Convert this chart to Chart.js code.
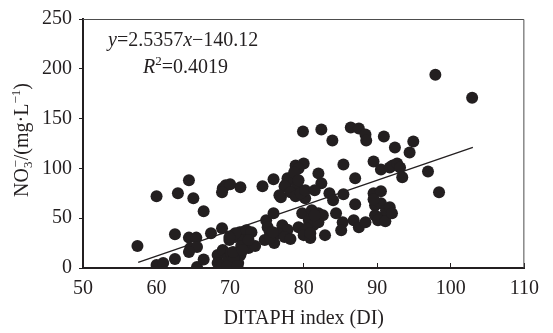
<!DOCTYPE html>
<html>
<head>
<meta charset="utf-8">
<script src="https://cdn.jsdelivr.net/npm/chart.js@4.4.0/dist/chart.umd.min.js"></script>
<style>
html, body { margin: 0; padding: 0; background: #fff; }
</style>
</head>
<body>
<canvas id="diChart" width="553" height="333"></canvas>
<script>
// DITAPH index (x) and nitrate (y)
var diIndex = [
    57.4, 60, 62.9, 64.4, 65, 66.4, 62.5, 64.4, 65.4, 64.6, 65.5, 64.4, 67.4, 60, 60.9, 62.5, 65.5, 66.4,
    68.9, 68.3, 69, 68.3, 68.9, 69.7, 70.1, 69.9, 70.7, 71.3, 72.2, 72.9, 71.8, 72.5, 71.5, 71.4, 71.1, 70.5,
    73.4, 69.6, 71, 69, 69.4, 70, 68.9, 71.4, 72.5, 70.4, 71.7, 70.7, 69.9,
    74.4, 75.9, 74.9, 75.1, 75.9, 75.6, 76, 77.1, 77.8, 76.9, 77.6, 77.8, 78.7, 77.4, 79.1, 78.2, 78.9, 80.2,
    78.9, 80, 79.3, 78.7, 79.3, 79.6, 80.2, 79.9, 75.4, 76.5, 77.4, 78.2, 79.3, 79.8, 74.7, 75.4, 76.7, 80, 75.8,
    82.4, 83.9, 82, 82.4, 81.5, 83.5, 84, 85.4, 85.4, 81.1, 82, 82.6, 80.7, 81.3, 80.4, 80, 80.9, 82.9, 84.4,
    85.3, 85.1, 82, 80.9, 81.5,
    86.4, 87.5, 88.4, 88.5, 90.9, 89.5, 90.5, 91.7, 87, 87, 89.5, 90.5, 89.7, 90.5, 86.8, 87.5, 88.4, 89.7,
    90.6, 91.2, 91.7, 90.1, 91.1, 92, 89.5,
    92.4, 94.9, 94.4, 92.1, 92.7, 93.1, 93.4, 96.9, 98.4, 97.9, 102.9
];
var no3 = [
    22, 72, 75, 88, 70, 57, 34, 30.5, 30.5, 20, 21, 16, 35, 3, 5, 9, 1, 8.5,
    40, 13, 18, 5, 3, 10, 15, 28, 31, 36, 38, 36, 28, 20, 22, 13, 5, 9,
    22, 1.5, 2, 80, 83, 84, 76, 81, 28, 16, 18, 35, 31,
    82, 89, 48, 41, 55, 31, 25, 43, 38.5, 71, 84, 90, 88, 82, 82, 76, 72, 70,
    103, 105, 100, 96, 88, 75, 78, 137, 36, 35, 31, 29, 41, 55, 28, 30, 73, 36, 36,
    139, 128, 95, 85, 78, 75, 68, 74, 104, 58, 55, 53, 48, 43, 40, 33, 30, 33, 55,
    46, 38, 46, 35, 53,
    141, 140, 134, 128, 132, 107, 99, 101, 90, 64, 75, 77, 63, 65, 48, 41, 46, 53,
    51, 58, 61, 48, 47, 55, 69,
    121, 127, 116, 103, 105, 101, 91, 97, 76, 194, 171
];

// ends of the fitted line as drawn
var fitX = [57.5, 103];
var fitY = [5.7, 121.1];

var xTicks = [50, 60, 70, 80, 90, 100, 110];
var yTicks = [0, 50, 100, 150, 200, 250];

var ink = '#231f20';
var serif = 'Liberation Serif';

var points = diIndex.map(function (x, i) { return { x: x, y: no3[i] }; });
var fitLine = fitX.map(function (x, i) { return { x: x, y: fitY[i] }; });

// thin frame on top and right, as in the figure
var framePlugin = {
    id: 'frame',
    afterDraw: function (chart) {
        var a = chart.chartArea, c = chart.ctx;
        c.save();
        c.strokeStyle = '#4d4d4d';
        c.lineWidth = 1;
        c.beginPath();
        c.moveTo(a.left, a.top + 0.5);
        c.lineTo(a.right - 0.5, a.top + 0.5);
        c.lineTo(a.right - 0.5, a.bottom);
        c.stroke();
        c.restore();
    }
};

// draws text pieces with italics / sub / superscripts
function drawRuns(c, runs, x, y) {
    runs.forEach(function (r) {
        var size = r.size || 20;
        c.font = (r.italic ? 'italic ' : '') + size + 'px "' + serif + '"';
        c.fillText(r.t, x, y + (r.dy || 0));
        x += c.measureText(r.t).width + (r.kern || 0);
    });
}
function runsWidth(c, runs) {
    var w = 0;
    runs.forEach(function (r) {
        c.font = (r.italic ? 'italic ' : '') + (r.size || 20) + 'px "' + serif + '"';
        w += c.measureText(r.t).width + (r.kern || 0);
    });
    return w;
}

var labelsPlugin = {
    id: 'labels',
    afterDraw: function (chart) {
        var c = chart.ctx;
        c.save();
        c.fillStyle = ink;
        c.textBaseline = 'alphabetic';

        // regression text
        drawRuns(c, [
            { t: 'y', italic: true },
            { t: '=2.5357' },
            { t: 'x', italic: true },
            { t: '\u2212140.12' }
        ], 108, 46);
        drawRuns(c, [
            { t: 'R', italic: true },
            { t: '2', size: 13, dy: -8 },
            { t: '=0.4019' }
        ], 143, 73);

        // y axis title, rotated
        var yRuns = [
            { t: 'NO' },
            { t: '3', size: 13, dy: 4, kern: -6 },
            { t: '\u2212', size: 13, dy: -8 },
            { t: '/(mg\u00b7L' },
            { t: '\u22121', size: 13, dy: -8 },
            { t: ')' }
        ];
        var w = runsWidth(c, yRuns);
        c.translate(28, 140);
        c.rotate(-Math.PI / 2);
        drawRuns(c, yRuns, -w / 2, 0);
        c.restore();
    }
};

new Chart(document.getElementById('diChart').getContext('2d'), {
    type: 'scatter',
    data: {
        datasets: [{
            label: 'NO3',
            data: points,
            backgroundColor: ink,
            borderWidth: 0,
            pointRadius: 6,
            pointHoverRadius: 6
        }, {
            type: 'line',
            label: 'fit',
            data: fitLine,
            borderColor: ink,
            borderWidth: 1.3,
            pointRadius: 0,
            fill: false
        }]
    },
    options: {
        responsive: false,
        animation: false,
        layout: { padding: { left: 0, right: 16, top: 17, bottom: 0 } },
        plugins: {
            legend: { display: false },
            tooltip: { enabled: false }
        },
        scales: {
            x: {
                type: 'linear',
                min: xTicks[0],
                max: xTicks[xTicks.length - 1],
                afterBuildTicks: function (s) { s.ticks = xTicks.map(function (v) { return { value: v }; }); },
                afterFit: function (s) { s.height = 65; },
                ticks: { color: ink, font: { family: serif, size: 20 }, padding: 14, maxRotation: 0 },
                grid: { drawOnChartArea: false, tickLength: -5, color: ink, lineWidth: 1 },
                border: { color: ink, width: 2 },
                title: {
                    display: true,
                    text: 'DITAPH index (DI)',
                    color: ink,
                    font: { family: serif, size: 20 },
                    padding: { top: 0, bottom: 2 }
                }
            },
            y: {
                min: yTicks[0],
                max: yTicks[yTicks.length - 1],
                afterBuildTicks: function (s) { s.ticks = yTicks.map(function (v) { return { value: v }; }); },
                afterFit: function (s) { s.width = 83; },
                ticks: { color: ink, font: { family: serif, size: 20 }, padding: 7 },
                grid: { drawOnChartArea: false, tickLength: 4, color: ink, lineWidth: 1 },
                border: { color: ink, width: 2 }
            }
        }
    },
    plugins: [framePlugin, labelsPlugin]
});
</script>
</body>
</html>
